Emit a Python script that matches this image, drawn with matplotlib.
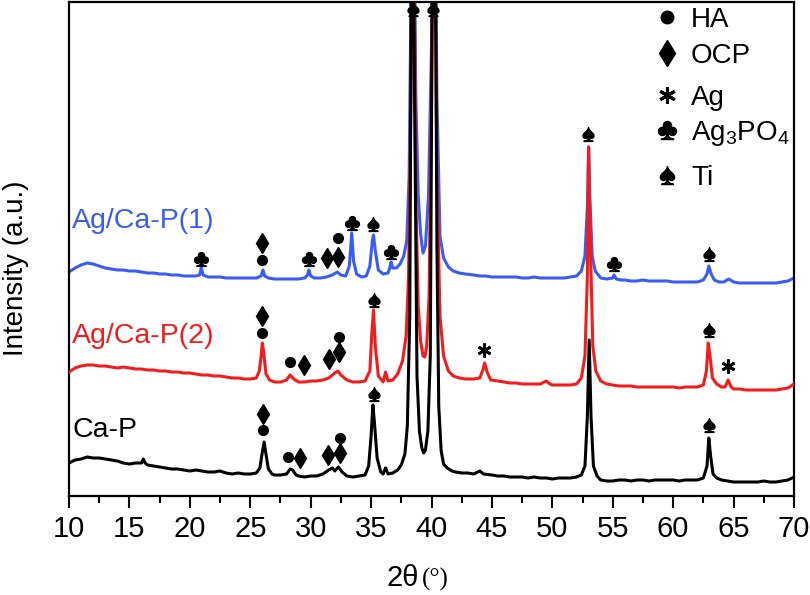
import matplotlib
matplotlib.use('Agg')
import matplotlib.pyplot as plt
import numpy as np

plt.rcParams['font.family'] = ['Liberation Sans', 'DejaVu Sans']
plt.rcParams['mathtext.default'] = 'regular'

# 2theta / intensity (intensity in arbitrary units, offset stacks)
cap_pts = [(10.0, 33), (10.5, 36), (11, 37), (11.5, 39), (12, 38), (12.5, 38), (13, 37), (13.5, 36),
           (14, 35), (14.5, 33), (15, 32), (15.5, 33), (16.0, 33), (16.15, 37), (16.3, 33), (16.5, 31),
           (17, 30), (17.5, 29), (18, 28), (18.5, 27), (19, 27), (19.5, 26), (20, 25), (20.5, 26),
           (21, 25), (21.5, 24), (22, 24), (22.5, 25), (23, 23), (23.5, 22), (24, 23), (24.5, 22),
           (25, 22), (25.5, 23), (25.8, 28), (26.0, 44), (26.15, 54), (26.3, 42), (26.5, 27), (26.8, 22),
           (27, 21), (27.5, 21), (28, 22), (28.3, 27), (28.5, 26), (28.8, 21), (29, 20), (29.5, 19),
           (30, 20), (30.5, 20), (31, 22), (31.5, 26), (31.8, 28), (32.0, 25), (32.3, 29), (32.6, 24),
           (33, 20), (33.5, 19), (34, 20), (34.5, 21), (34.8, 30), (35.0, 60), (35.15, 91), (35.3, 70),
           (35.5, 38), (35.8, 24), (36.0, 22), (36.2, 28), (36.4, 22), (36.8, 23), (37.2, 26), (37.5, 31),
           (37.8, 42), (38.0, 70), (38.2, 180), (38.4, 700), (38.6, 400), (38.8, 120), (39.0, 65),
           (39.2, 48), (39.35, 43), (39.5, 46), (39.7, 65), (39.9, 140), (40.1, 600), (40.25, 700),
           (40.45, 250), (40.6, 90), (40.8, 45), (41.0, 32), (41.3, 28), (41.7, 25), (42, 24), (42.5, 23),
           (43, 23), (43.5, 22), (44, 25), (44.3, 22), (45, 21), (45.5, 20), (46, 20), (46.5, 19),
           (47, 19), (47.5, 19), (48, 18), (48.5, 19), (49, 18), (49.5, 18), (50, 17), (50.5, 18),
           (51, 18), (51.5, 18), (52, 19), (52.4, 21), (52.7, 30), (52.9, 80), (53.05, 156), (53.2, 80),
           (53.4, 30), (53.7, 20), (54, 16), (54.5, 15), (55, 15), (55.5, 16), (56, 16), (56.5, 15),
           (57, 16), (57.5, 16), (58, 15), (58.5, 16), (59, 16), (59.5, 16), (60, 16), (60.5, 15),
           (61, 16), (61.5, 16), (62, 16), (62.5, 18), (62.8, 30), (62.95, 58), (63.1, 40), (63.3, 22),
           (63.6, 18), (64, 16), (64.5, 15), (65, 14), (65.5, 14), (66, 14), (66.5, 14), (67, 14),
           (67.5, 15), (68, 14), (68.5, 14), (69, 15), (69.5, 16), (70, 19)]

ag2_pts = [(10, 124), (10.5, 128), (11, 130), (11.5, 131), (12, 131), (12.5, 130), (13, 130), (13.5, 129),
           (14, 128), (14.5, 129), (15, 128), (15.5, 127), (16, 127), (16.5, 126), (17, 126), (17.5, 125),
           (18, 125), (18.5, 124), (19, 124), (19.5, 123), (20, 123), (20.5, 122), (21, 121), (21.5, 121),
           (22, 120), (22.5, 120), (23, 119), (23.5, 118), (24, 118), (24.5, 117), (25, 117), (25.5, 118),
           (25.75, 125), (25.9, 140), (26.0, 153), (26.1, 145), (26.3, 122), (26.6, 116), (27, 114),
           (27.5, 114), (28, 116), (28.3, 121), (28.6, 117), (29, 114), (29.5, 114), (30, 115), (30.5, 115),
           (31, 116), (31.5, 118), (32.0, 123), (32.25, 125), (32.5, 121), (33, 116), (33.5, 114),
           (34, 114), (34.5, 115), (34.9, 125), (35.05, 160), (35.2, 186), (35.35, 150), (35.6, 120),
           (36, 114), (36.2, 124), (36.4, 115), (36.8, 116), (37.2, 122), (37.6, 135), (37.9, 160),
           (38.1, 220), (38.3, 400), (38.45, 700), (38.7, 300), (38.9, 190), (39.1, 155), (39.3, 140),
           (39.45, 139), (39.6, 150), (39.8, 200), (40.0, 400), (40.2, 700), (40.45, 320), (40.7, 180),
           (41.0, 140), (41.4, 125), (41.8, 120), (42.3, 118), (42.8, 117), (43.5, 117), (44.0, 118),
           (44.25, 126), (44.4, 133), (44.6, 124), (44.9, 116), (45.5, 115), (46, 114), (46.5, 113),
           (47, 113), (47.5, 112), (48, 112), (48.5, 112), (49, 112), (49.5, 115), (49.8, 112), (50, 111),
           (50.5, 111), (51, 111), (51.5, 111), (52, 112), (52.4, 118), (52.7, 140), (52.9, 220),
           (53.0, 349), (53.15, 250), (53.35, 150), (53.6, 125), (54, 115), (54.5, 112), (55, 111),
           (55.5, 110), (56, 110), (56.5, 110), (57, 109), (57.5, 109), (58, 109), (58.5, 109), (59, 109),
           (59.5, 109), (60, 109), (60.5, 108), (61, 109), (61.5, 109), (62, 109), (62.5, 111),
           (62.75, 125), (62.9, 153), (63.05, 140), (63.25, 118), (63.6, 112), (64, 109), (64.3, 109),
           (64.55, 116), (64.8, 109), (65, 107), (65.5, 107), (66, 106), (66.5, 106), (67, 106),
           (67.5, 106), (68, 106), (68.5, 106), (69, 107), (69.5, 108), (70, 112)]

ag1_pts = [(10, 224), (10.5, 228), (11, 231), (11.5, 233), (12, 232), (12.5, 230), (13, 228), (13.5, 227),
           (14, 226), (14.5, 226), (15, 225), (15.5, 225), (16, 224), (16.5, 223), (17, 223), (17.5, 222),
           (18, 222), (18.5, 221), (19, 221), (19.5, 220), (20, 220), (20.5, 220), (20.8, 221),
           (20.95, 228), (21.1, 221), (21.5, 219), (22, 219), (22.5, 219), (23, 218), (23.5, 218),
           (24, 218), (24.5, 218), (25, 218), (25.5, 218), (25.9, 220), (26.05, 226), (26.2, 220),
           (26.5, 218), (27, 217), (27.5, 217), (28, 217), (28.5, 217), (29, 217), (29.5, 218),
           (29.75, 221), (29.85, 226), (30.0, 220), (30.3, 218), (30.8, 218), (31.3, 219), (31.8, 221),
           (32.2, 224), (32.5, 221), (32.9, 220), (33.2, 230), (33.4, 263), (33.55, 235), (33.8, 222),
           (34.2, 219), (34.6, 220), (34.9, 230), (35.1, 255), (35.2, 261), (35.35, 245), (35.6, 226),
           (36, 222), (36.4, 223), (36.55, 228), (36.65, 234), (36.8, 228), (37.1, 228), (37.4, 232),
           (37.7, 240), (37.95, 255), (38.15, 320), (38.3, 500), (38.45, 750), (38.7, 400), (38.9, 300),
           (39.1, 262), (39.3, 243), (39.5, 250), (39.75, 300), (40.0, 450), (40.2, 750), (40.45, 400),
           (40.7, 260), (41.0, 238), (41.4, 229), (41.8, 225), (42.3, 223), (42.8, 222), (43.5, 221),
           (44, 220), (44.5, 220), (45, 219), (45.5, 219), (46, 219), (46.5, 219), (47, 219), (47.5, 218),
           (48, 218), (48.5, 219), (49, 218), (49.5, 218), (50, 218), (50.5, 218), (51, 218), (51.5, 219),
           (52, 220), (52.4, 225), (52.7, 240), (52.9, 290), (53.0, 349), (53.1, 300), (53.3, 240),
           (53.55, 225), (54, 218), (54.5, 217), (55, 218), (55.1, 221), (55.3, 217), (55.7, 216),
           (56, 216), (56.5, 215), (57, 215), (57.5, 216), (58, 215), (58.5, 215), (59, 215), (59.5, 215),
           (60, 214), (60.5, 214), (61, 214), (61.5, 214), (62, 214), (62.5, 216), (62.8, 222),
           (62.95, 230), (63.15, 222), (63.4, 216), (63.8, 214), (64.2, 214), (64.6, 217), (65, 214),
           (65.5, 213), (66, 213), (66.5, 213), (67, 213), (67.5, 213), (68, 213), (68.5, 213), (69, 214),
           (69.5, 215), (70, 218)]

# phase markers above the peaks
ha_x = [26.05, 28.1, 32.4, 25.97, 28.29, 32.35, 25.97, 32.26]
ha_y = [66, 39, 58, 163, 134, 159, 236, 258]
ocp_x = [26.05, 29.1, 31.4, 32.4, 25.97, 29.45, 31.52, 32.35, 25.97, 31.35, 32.26]
ocp_y = [82, 38, 41, 43, 180, 131, 137, 144, 253, 238, 239]
ag_x = [44.35, 64.55]
ag_y = [146, 130]
agpo_x = [20.92, 29.86, 33.42, 36.65, 55.1]
agpo_y = [237, 237, 273, 244, 232]
ti_x = [35.2, 63.0, 35.2, 63.0, 35.16, 52.95, 62.97, 38.47, 40.13]
ti_y = [102, 71, 196, 166, 272, 362, 242, 487, 487]

legend_names = ['HA', 'OCP', 'Ag', 'Ag$_3$PO$_4$', 'Ti']
legend_y = [479, 443, 401, 366, 321]

series_names = ['Ag/Ca-P(1)', 'Ag/Ca-P(2)', 'Ca-P']
series_colors = ['#3a5cf5', '#f21c1c', 'black']
series_label_y = [268, 153, 59]

fig = plt.figure(figsize=(8.1, 5.95), dpi=100)
ax = fig.add_axes([69 / 810, 99 / 595, 725 / 810, 494 / 595])

for pts, c, z in zip([ag1_pts, ag2_pts, cap_pts], series_colors, [2, 3, 4]):
    x, y = zip(*pts)
    ax.plot(x, y, color=c, lw=2.2, zorder=z)

for name, c, yy in zip(series_names, series_colors, series_label_y):
    ax.text(10.25, yy, name, color=c, fontsize=20.5, va='baseline', ha='left')

mk = dict(ls='none', color='black', zorder=6, clip_on=False)
ax.plot(ha_x, ha_y, marker='o', ms=7, **mk)
ax.plot(ocp_x, ocp_y, marker='d', ms=10, **mk)
ax.plot(ag_x, ag_y, marker=(6, 2, 0), ms=10, mew=2.0, **mk)
ax.plot(agpo_x, agpo_y, marker='$\u2663$', ms=10, **mk)
ax.plot(ti_x, ti_y, marker='$\u2660$', ms=10, **mk)

# legend of phase symbols
leg_markers = [dict(marker='o', ms=9), dict(marker='d', ms=13), dict(marker=(6, 2, 0), ms=12, mew=2.2),
               dict(marker='$\u2663$', ms=13), dict(marker='$\u2660$', ms=13)]
for name, yy, m in zip(legend_names, legend_y, leg_markers):
    ax.plot([59.49], [yy], **m, **mk)
    ax.text(61.48, yy - 10, name, fontsize=20, va='baseline', ha='left')

ax.set_xlim(10, 70)
ax.set_ylim(0, 494)
ax.set_yticks([])
ax.set_xticks(np.arange(10, 71, 5))
ax.set_xticks(np.arange(12.5, 70, 5), minor=True)
ax.tick_params(axis='x', which='major', direction='out', length=8.5, width=1.5, labelsize=21, pad=5)
ax.tick_params(axis='x', which='minor', direction='out', length=5, width=1.5)
for s in ax.spines.values():
    s.set_linewidth(1.6)

fig.text(419 / 810, 1 - 586 / 595, '2\u03b8', fontsize=21, ha='right', va='baseline')
fig.text(422 / 810, 1 - 586 / 595, '(\u00b0)', fontsize=18, ha='left', va='baseline',
         family='Liberation Serif')
fig.text(16 / 810, 1 - 268 / 595, 'Intensity (a.u.)', fontsize=20, rotation=90, ha='center', va='center')

fig.savefig('out.png', dpi=100)
